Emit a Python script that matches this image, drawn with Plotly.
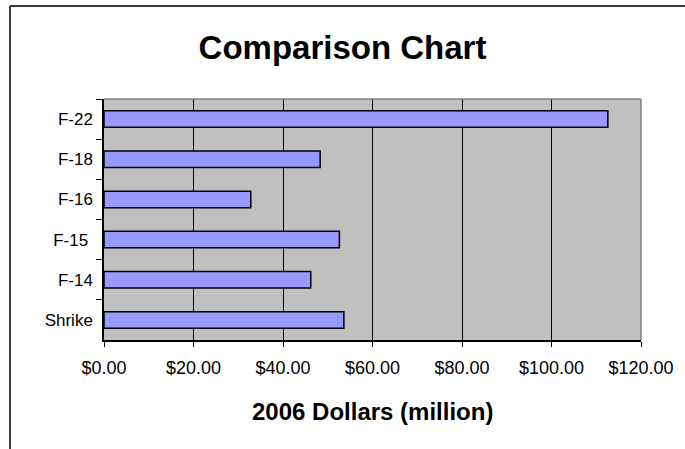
import plotly.graph_objects as go

aircraft = ["F-22", "F-18", "F-16", "F-15 ", "F-14", "Shrike"]
cost_musd = [112.6, 48.3, 32.8, 52.6, 46.2, 53.6]
x_ticks = [0, 20, 40, 60, 80, 100, 120]
x_tick_labels = ["$0.00", "$20.00", "$40.00", "$60.00", "$80.00", "$100.00", "$120.00"]

W, H = 685, 449
ML, MR, MT, MB = 104, 44, 99, 109
PW, PH = W - ML - MR, H - MT - MB

def px_x(px):
    return (px - ML) / PW

def px_y(py):
    return (H - MB - py) / PH

fig = go.Figure(go.Bar(
    x=cost_musd, y=aircraft, orientation="h",
    marker=dict(color="#9999FF", line=dict(color="#000000", width=1.5)),
))

font = "Liberation Sans, Arial, sans-serif"
fig.update_layout(
    width=W, height=H,
    margin=dict(l=ML, r=MR, t=MT, b=MB, autoexpand=False),
    paper_bgcolor="white", plot_bgcolor="#C0C0C0",
    bargap=0.59, showlegend=False,
    font=dict(family=font, size=17, color="#000000"),
    title=dict(text="<b>Comparison Chart</b>", x=0.5, xanchor="center",
               y=1 - 47 / H, yanchor="middle", font=dict(size=33, family=font)),
    xaxis=dict(range=[0, 120], tickvals=x_ticks, ticktext=x_tick_labels,
               tickfont=dict(size=18),
               showgrid=True, gridcolor="#000000", gridwidth=1,
               ticks="outside", ticklen=5, tickcolor="#000000",
               ticklabelstandoff=6,
               showline=True, linecolor="#000000", linewidth=1.5,
               zeroline=False, fixedrange=True),
    yaxis=dict(autorange="reversed", showgrid=False, tickson="boundaries",
               ticks="outside", ticklen=6, tickcolor="#000000",
               showline=True, linecolor="#000000", linewidth=1.5,
               ticklabelstandoff=6, fixedrange=True),
    shapes=[
        dict(type="line", xref="paper", yref="paper", x0=0, x1=1, y0=1, y1=1,
             line=dict(color="#808080", width=1.5)),
        dict(type="line", xref="paper", yref="paper", x0=1, x1=1, y0=0, y1=1,
             line=dict(color="#808080", width=1.5)),
        dict(type="line", xref="paper", yref="paper", x0=px_x(10), x1=px_x(10),
             y0=px_y(6), y1=px_y(H + 5), line=dict(color="#3a3a3a", width=2)),
        dict(type="line", xref="paper", yref="paper", x0=px_x(10), x1=px_x(W + 5),
             y0=px_y(6), y1=px_y(6), line=dict(color="#3a3a3a", width=2)),
    ],
    annotations=[
        dict(text="<b>2006 Dollars (million)</b>", xref="paper", yref="paper",
             x=0.5, y=px_y(411), xanchor="center", yanchor="middle",
             showarrow=False, font=dict(size=24, family=font)),
    ],
)

fig.write_html("out.html", config={"displayModeBar": False},
               post_script="document.body.style.margin='0';document.body.style.overflow='hidden';")
